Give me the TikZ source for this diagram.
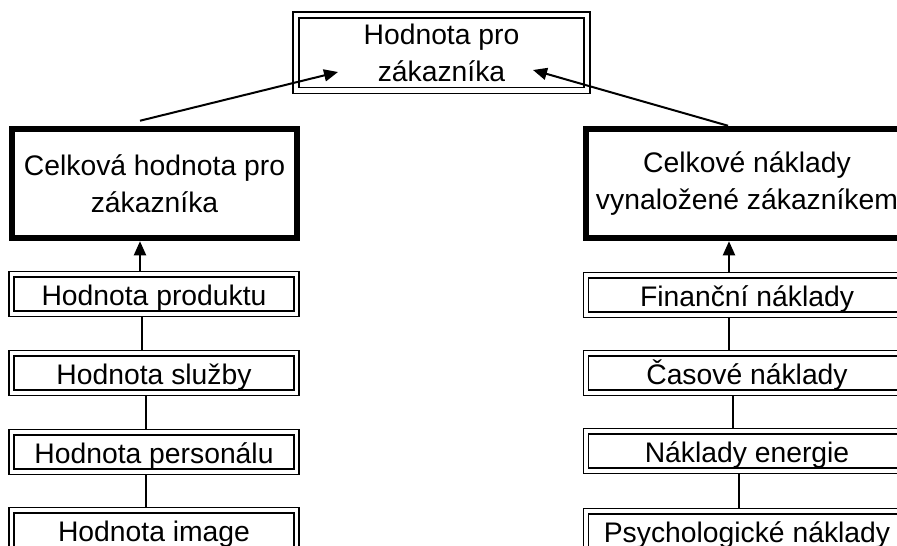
\documentclass[tikz,border=0pt]{standalone}
\usepackage{fontspec}
\setmainfont{Liberation Sans}
\usetikzlibrary{arrows.meta}
\newcommand\diagfont{\fontsize{28.3}{37}\selectfont}
\begin{document}
\begin{tikzpicture}[x=1pt,y=-1pt,
  dbox/.style={draw, double, double distance=3.8pt, line width=1.4pt, inner sep=0pt,
    outer sep=3.3pt, minimum height=39.5pt, font=\diagfont, text height=25pt, text depth=3pt},
  topbox/.style={draw, double, double distance=4.3pt, line width=1.4pt, inner sep=0pt,
    outer sep=3.5pt, minimum width=291pt, minimum height=75.5pt, font=\diagfont, align=center},
  bigbox/.style={draw, line width=6.5pt, inner sep=0pt, minimum height=109pt,
    font=\diagfont, align=center},
  link/.style={draw, line width=1.5pt},
  arr/.style={draw, line width=2pt, -{Triangle[length=14pt,width=12pt]}}]
\useasboundingbox (0,0) rectangle (897,546);
\clip (0,0) rectangle (897,546);
\fill[white] (0,0) rectangle (897,546);

\node[topbox] (T) at (441.5,52.75) {Hodnota pro\\zákazníka};
\node[bigbox, minimum width=285pt] (L) at (154.5,183.5) {Celková hodnota pro\\zákazníka};
\node[bigbox, minimum width=322pt] (R) at (747,183.5) {Celkové náklady\\vynaložené zákazníkem};

\node[dbox, minimum width=285pt] (l1) at (154,294) {Hodnota produktu};
\node[dbox, minimum width=285pt] (l2) at (154,373) {Hodnota služby};
\node[dbox, minimum width=285pt] (l3) at (154,452) {Hodnota personálu};
\node[dbox, minimum width=285pt] (l4) at (154,530) {Hodnota image};

\node[dbox, minimum width=322pt] (r1) at (747,295) {Finanční náklady};
\node[dbox, minimum width=322pt] (r2) at (747,373) {Časové náklady};
\node[dbox, minimum width=322pt] (r3) at (747,451) {Náklady energie};
\node[dbox, minimum width=322pt] (r4) at (747,531) {Psychologické náklady};

\draw[link] ([xshift=-12pt]l1.south) -- ([xshift=-12pt]l2.north);
\draw[link] ([xshift=-8pt]l2.south) -- ([xshift=-8pt]l3.north);
\draw[link] ([xshift=-8pt]l3.south) -- ([xshift=-8pt]l4.north);

\draw[link] ([xshift=-18pt]r1.south) -- ([xshift=-18pt]r2.north);
\draw[link] ([xshift=-14pt]r2.south) -- ([xshift=-14pt]r3.north);
\draw[link] ([xshift=-8pt]r3.south) -- ([xshift=-8pt]r4.north);

\draw[arr] ([xshift=-14pt]l1.north) -- ([xshift=-14.5pt]L.south);
\draw[arr] ([xshift=-18pt]r1.north) -- ([xshift=-18pt]R.south);

\draw[arr] ([shift={(-14.5,-5)}]L.north) -- ([shift={(-103.5,19.25)}]T.center);
\draw[arr] ([shift={(-19,0)}]R.north) -- ([shift={(91.5,17.25)}]T.center);
\end{tikzpicture}
\end{document}
